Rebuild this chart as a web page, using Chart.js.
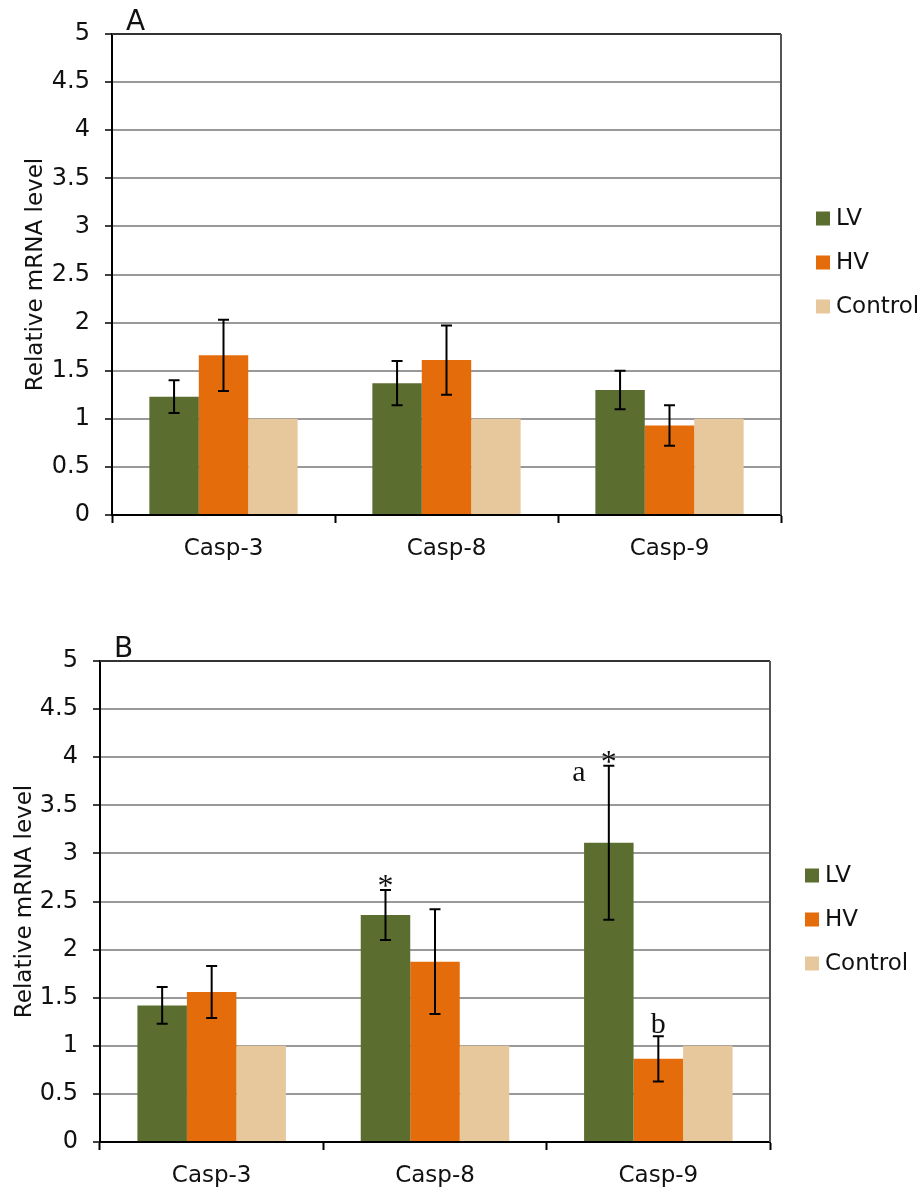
<!DOCTYPE html>
<html>
<head>
<meta charset="utf-8">
<script src="https://cdn.jsdelivr.net/npm/chart.js@4.4.1/dist/chart.umd.min.js"></script>
<style>
  body { margin: 0; background: #fff; }
  #wrap { position: relative; width: 923px; height: 1188px; }
  .panel { position: absolute; left: 0; width: 923px; }
</style>
</head>
<body>
<div id="wrap">
  <div class="panel" style="top:0;height:580px"><canvas id="chartA"></canvas></div>
  <div class="panel" style="top:620px;height:568px"><canvas id="chartB"></canvas></div>
</div>
<script>
var categories = ["Casp-3", "Casp-8", "Casp-9"];
var seriesNames = ["LV", "HV", "Control"];
var seriesColors = ["#5B6E2F", "#E46C0A", "#E6C89C"];
var yTicks = [0, 0.5, 1, 1.5, 2, 2.5, 3, 3.5, 4, 4.5, 5];

// panel A
var lvA = [1.23, 1.37, 1.30];
var hvA = [1.66, 1.61, 0.93];
var ctrlA = [1, 1, 1];
var lvErrA = [0.17, 0.23, 0.20];
var hvErrA = [0.37, 0.36, 0.21];

// panel B
var lvB = [1.42, 2.36, 3.11];
var hvB = [1.56, 1.875, 0.865];
var ctrlB = [1, 1, 1];
var lvErrB = [0.19, 0.26, 0.80];
var hvErrB = [0.27, 0.545, 0.235];
var starLvB = ["", "*", "*"];
var letterLvB = ["", "", "a"];
var letterHvB = ["", "", "b"];

Chart.defaults.font.family = "'DejaVu Sans', sans-serif";
Chart.defaults.font.size = 23;
Chart.defaults.color = "#111";

var extras = {
    id: "extras",
    afterDatasetsDraw: function(chart, args, opts) {
        var ctx = chart.ctx, area = chart.chartArea, y = chart.scales.y;
        ctx.save();

        // error bars
        ctx.strokeStyle = "#000";
        ctx.lineWidth = 2;
        chart.data.datasets.forEach(function(ds, d) {
            if (!ds.errors) return;
            chart.getDatasetMeta(d).data.forEach(function(bar, i) {
                var v = ds.data[i], e = ds.errors[i];
                var top = y.getPixelForValue(v + e), bot = y.getPixelForValue(v - e);
                ctx.beginPath();
                ctx.moveTo(bar.x, top); ctx.lineTo(bar.x, bot);
                ctx.moveTo(bar.x - 5.5, top); ctx.lineTo(bar.x + 5.5, top);
                ctx.moveTo(bar.x - 5.5, bot); ctx.lineTo(bar.x + 5.5, bot);
                ctx.stroke();
            });
        });

        // significance marks
        ctx.fillStyle = "#111";
        ctx.textAlign = "center";
        ctx.textBaseline = "alphabetic";
        chart.data.datasets.forEach(function(ds, d) {
            chart.getDatasetMeta(d).data.forEach(function(bar, i) {
                var top = ds.errors ? y.getPixelForValue(ds.data[i] + ds.errors[i]) : bar.y;
                var star = ds.stars ? ds.stars[i] : "";
                var letter = ds.letters ? ds.letters[i] : "";
                if (star) {
                    ctx.font = "32px 'Liberation Serif', serif";
                    ctx.fillText(star, bar.x, top + 6);
                }
                if (letter) {
                    ctx.font = "30px 'Liberation Serif', serif";
                    if (star) ctx.fillText(letter, bar.x - 30, top + 15);
                    else ctx.fillText(letter, bar.x, top - 3);
                }
            });
        });

        // frame top and right
        ctx.lineWidth = 2;
        ctx.strokeStyle = "#333";
        ctx.beginPath();
        ctx.moveTo(area.left, area.top); ctx.lineTo(area.right, area.top);
        ctx.stroke();
        ctx.strokeStyle = "#555";
        ctx.beginPath();
        ctx.moveTo(area.right, area.top); ctx.lineTo(area.right, area.bottom);
        ctx.stroke();

        // panel letter
        ctx.font = "28px 'DejaVu Sans', sans-serif";
        ctx.textAlign = "left";
        ctx.fillStyle = "#111";
        ctx.fillText(opts.panel, area.left + 14, area.top - 4);

        // legend
        var mid = (area.top + area.bottom) / 2 + opts.legendShift;
        var n = chart.data.datasets.length;
        ctx.font = "23px 'DejaVu Sans', sans-serif";
        ctx.textBaseline = "middle";
        chart.data.datasets.forEach(function(ds, d) {
            var cy = mid + (d - (n - 1) / 2) * 44;
            var bx = area.right + opts.legendGap;
            ctx.fillStyle = ds.backgroundColor;
            ctx.fillRect(bx, cy - 7, 14, 14);
            ctx.fillStyle = "#111";
            ctx.fillText(ds.label, bx + 20, cy + 1);
        });
        ctx.restore();
    }
};

function makeChart(id, values, errors, stars, letters, cfg) {
    var datasets = seriesNames.map(function(name, k) {
        return {
            label: name,
            data: values[k],
            errors: errors[k],
            stars: stars[k],
            letters: letters[k],
            backgroundColor: seriesColors[k],
            borderWidth: 0,
            categoryPercentage: 0.665,
            barPercentage: 1.0
        };
    });
    return new Chart(id, {
        type: "bar",
        data: { labels: categories, datasets: datasets },
        plugins: [extras],
        options: {
            responsive: true,
            maintainAspectRatio: false,
            animation: false,
            layout: { padding: { top: cfg.top, right: cfg.right, left: 0, bottom: 0 } },
            plugins: {
                legend: { display: false },
                tooltip: { enabled: false },
                extras: { panel: cfg.panel, legendShift: cfg.legendShift, legendGap: 35 }
            },
            scales: {
                x: {
                    afterFit: function(s) { s.height = cfg.xHeight; },
                    grid: { drawOnChartArea: false, tickLength: 8, tickColor: "#000", tickWidth: 2 },
                    border: { color: "#000", width: 2 },
                    ticks: { padding: 12, color: "#111" }
                },
                y: {
                    min: 0,
                    max: 5,
                    afterFit: function(s) { s.width = cfg.yWidth; },
                    afterBuildTicks: function(s) { s.ticks = yTicks.map(function(v) { return { value: v }; }); },
                    ticks: {
                        padding: 15,
                        color: "#111",
                        font: { size: 24 },
                        callback: function(v) { return String(v); }
                    },
                    grid: { color: "#999", lineWidth: 2, tickLength: 7, tickColor: "#000", tickWidth: 1.5 },
                    border: { color: "#000", width: 2 },
                    title: { display: true, text: "Relative mRNA level", color: "#111", padding: { top: cfg.titlePad, bottom: 0 } }
                }
            }
        }
    });
}

makeChart("chartA", [lvA, hvA, ctrlA], [lvErrA, hvErrA, null], [null, null, null], [null, null, null],
    { panel: "A", top: 34, right: 142, xHeight: 65, yWidth: 112, titlePad: 22, legendShift: -12 });
makeChart("chartB", [lvB, hvB, ctrlB], [lvErrB, hvErrB, null], [starLvB, null, null], [letterLvB, letterHvB, null],
    { panel: "B", top: 41, right: 153, xHeight: 46, yWidth: 100, titlePad: 11, legendShift: 18 });
</script>
</body>
</html>
